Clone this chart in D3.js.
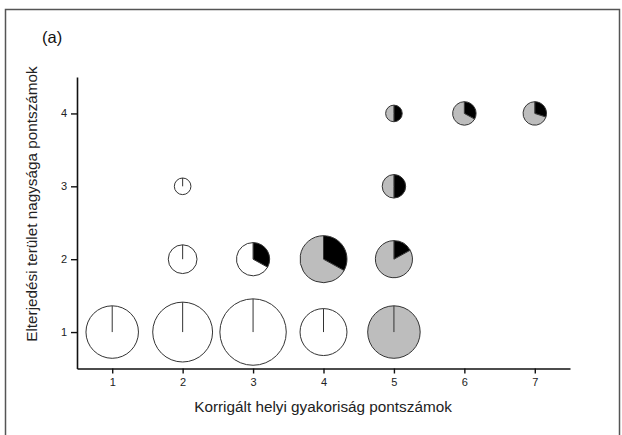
<!DOCTYPE html>
<html>
<head>
<meta charset="utf-8">
<script src="https://cdn.jsdelivr.net/npm/d3@7"></script>
<style>
  html, body { margin: 0; padding: 0; background: #fff; }
  svg { display: block; font-family: "Liberation Sans", Arial, sans-serif; }
</style>
</head>
<body>
<svg id="chart" width="622" height="435"></svg>
<script>
// Data: one pie per (x, y) cell
const xScore = [1, 2, 3, 4, 5, 2, 3, 4, 5, 2, 5, 5, 6, 7];
const yScore = [1, 1, 1, 1, 1, 2, 2, 2, 2, 3, 3, 4, 4, 4];
const sizeN  = [10, 13, 16, 8, 10, 3, 4, 8, 5, 1, 2, 1, 2, 2];
const blackShare = [0, 0, 0, 0, 0, 0, 0.33, 0.33, 0.17, 0, 0.5, 0.5, 0.33, 0.3];
const grayShare  = [0, 0, 0, 0, 1, 0, 0, 0.67, 0.83, 0, 0.5, 0.5, 0.67, 0.7];
const whiteShare = [1, 1, 1, 1, 0, 1, 0.67, 0, 0, 1, 0, 0, 0, 0];
const xTicks = [1, 2, 3, 4, 5, 6, 7];
const yTicks = [1, 2, 3, 4];
const xTitle = "Korrigált helyi gyakoriság pontszámok";
const yTitle = "Elterjedési terület nagysága pontszámok";
const panelLabel = "(a)";

const svg = d3.select("#chart");

// outer frame
svg.append("rect")
  .attr("x", 5.5).attr("y", 9.5).attr("width", 614).attr("height", 440)
  .attr("fill", "none").attr("stroke", "#555").attr("stroke-width", 1.5);

const x = d3.scaleLinear().domain([0.5, 7.5]).range([77, 570]);
const y = d3.scaleLinear().domain([0.5, 4.5]).range([368.5, 77]);
const r = d3.scaleSqrt().domain([0, 1]).range([0, 8.3]);

// axes
const gx = svg.append("g").attr("transform", "translate(0,368.5)")
  .call(d3.axisBottom(x).tickValues(xTicks).tickFormat(d3.format("d"))
    .tickSize(5).tickPadding(5).tickSizeOuter(0));
const gy = svg.append("g").attr("transform", "translate(77,0)")
  .call(d3.axisLeft(y).tickValues(yTicks).tickFormat(d3.format("d"))
    .tickSize(6).tickPadding(4).tickSizeOuter(0));
[gx, gy].forEach(g => {
  g.select(".domain").attr("stroke", "#111").attr("stroke-width", 1.6);
  g.selectAll(".tick line").attr("stroke", "#111").attr("stroke-width", 1.4);
  g.selectAll(".tick text").attr("font-size", 11).attr("fill", "#222")
    .attr("font-family", "'Liberation Sans', Arial, sans-serif");
});

// titles
svg.append("text").attr("x", 323).attr("y", 412).attr("text-anchor", "middle")
  .attr("font-size", 15.3).attr("fill", "#222").text(xTitle);
svg.append("text").attr("transform", "translate(37,204) rotate(-90)")
  .attr("text-anchor", "middle").attr("font-size", 15.3).attr("fill", "#222").text(yTitle);
svg.append("text").attr("x", 42).attr("y", 43)
  .attr("font-size", 16.5).attr("fill", "#111").text(panelLabel);

// pies
const colors = ["#000000", "#bdbdbd", "#ffffff"];
const pie = d3.pie().sort(null).value(d => d.v);
const data = xScore.map((xv, i) => ({
  x: xv, y: yScore[i], n: sizeN[i],
  parts: [blackShare[i], grayShare[i], whiteShare[i]]
}));

const g = svg.append("g");
data.forEach(d => {
  const rad = r(d.n);
  const cg = g.append("g").attr("transform", `translate(${x(d.x)},${y(d.y)})`);
  const slices = d.parts.map((v, k) => ({ v, k })).filter(s => s.v > 0);
  if (slices.length === 1) {
    cg.append("circle").attr("r", rad)
      .attr("fill", colors[slices[0].k]).attr("stroke", "#333").attr("stroke-width", 1);
    cg.append("line").attr("x1", 0).attr("y1", 0).attr("x2", 0).attr("y2", -rad)
      .attr("stroke", "#333").attr("stroke-width", 1);
  } else {
    const arc = d3.arc().innerRadius(0).outerRadius(rad);
    cg.selectAll("path").data(pie(slices)).join("path")
      .attr("d", arc)
      .attr("fill", p => colors[p.data.k])
      .attr("stroke", "#333").attr("stroke-width", 1);
  }
});
</script>
</body>
</html>
